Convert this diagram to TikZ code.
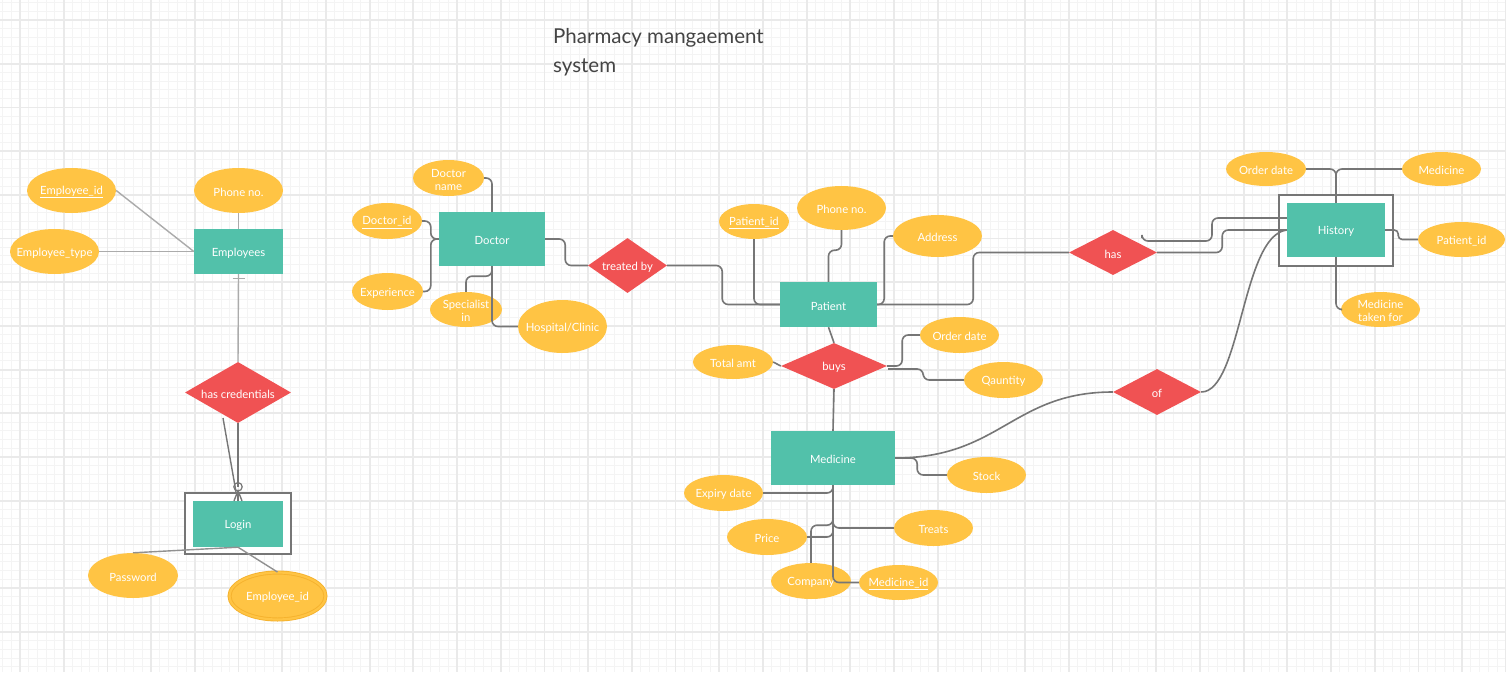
\documentclass[tikz,border=0pt]{standalone}
\usepackage{fontspec}
\setmainfont{Lato}
\usetikzlibrary{shapes.geometric,calc}
\definecolor{tealc}{HTML}{52C1AA}
\definecolor{orngc}{HTML}{FFC444}
\definecolor{orngdk}{HTML}{F5B22E}
\definecolor{redc}{HTML}{F05253}
\definecolor{connc}{HTML}{767676}
\definecolor{lconnc}{HTML}{ABABAB}
\definecolor{gridmaj}{HTML}{EAEAEA}
\definecolor{gridmin}{HTML}{F4F4F4}
\definecolor{titlec}{HTML}{444444}
\tikzset{
  ent/.style={rectangle, fill=tealc, draw=none, inner sep=0},
  attr/.style={ellipse, fill=orngc, draw=none, inner sep=0},
  rel/.style={diamond, fill=redc, draw=none, inner sep=0},
  lbl/.style={text=white, font=\fontsize{11.3}{13}\selectfont, align=center, inner sep=0, yshift=-1.5},
  conn/.style={draw=connc, line width=1.6, rounded corners=6},
  lconn/.style={draw=lconnc, line width=1.4},
  outerbox/.style={draw=connc, line width=1.5, fill=white, inner sep=0},
}
\begin{document}
\begin{tikzpicture}[x=1pt,y=-1pt]
\useasboundingbox (0,0) rectangle (1506,672);
\fill[white] (0,0) rectangle (1506,672);
% grid
\foreach \i in {0,...,173} {
  \pgfmathsetmacro{\g}{2.52+8.74*\i}
  \draw[gridmin, line width=1] (\g,0) -- (\g,672);
}
\foreach \i in {0,...,77} {
  \pgfmathsetmacro{\g}{2.52+8.74*\i}
  \draw[gridmin, line width=1] (0,\g) -- (1506,\g);
}
\foreach \i in {0,...,34} {
  \pgfmathsetmacro{\g}{20+43.7*\i}
  \draw[gridmaj, line width=1.8] (\g,0) -- (\g,672);
}
\foreach \i in {0,...,15} {
  \pgfmathsetmacro{\g}{20+43.7*\i}
  \draw[gridmaj, line width=1.8] (0,\g) -- (1506,\g);
}

% title
\node[anchor=north west, align=left, inner sep=0, font=\fontsize{20.5}{29}\selectfont, text=titlec] (title) at (553,28) {Pharmacy mangaement\\system};

% ---------- Employees / Login ----------
\node[ent, minimum width=89, minimum height=45, label={[lbl]center:Employees}] (emp) at (238.5,251.5) {};
\node[attr, minimum width=89, minimum height=45, label={[lbl]center:\underline{Employee\_id}}] (empid) at (71.5,190.5) {};
\node[attr, minimum width=89, minimum height=45, label={[lbl]center:Phone no.}] (empph) at (238.5,190.5) {};
\node[attr, minimum width=89, minimum height=45, label={[lbl]center:Employee\_type}] (emptype) at (54.5,251.5) {};
\node[rel, minimum width=106, minimum height=61, label={[lbl]center:has credentials}] (hascred) at (238,392.5) {};
\node[outerbox, minimum width=106, minimum height=61] (loginbox) at (238,523.5) {};
\node[ent, minimum width=90, minimum height=46, label={[lbl]center:Login}] (login) at (238,524) {};
\node[attr, minimum width=90, minimum height=45, label={[lbl]center:Password}] (password) at (133,575.5) {};
\node[attr, minimum width=96, minimum height=47, draw=orngdk, double=orngc, double distance=2.2, line width=0.9, label={[lbl]center:Employee\_id}] (empid2) at (277.5,596) {};

\draw[lconn] (empid.east) -- (emp.west);
\draw[lconn] (emptype.east) -- (emp.west);
\draw[lconn] (empph.south) -- (emp.north);
\draw[lconn] (emp.south) -- (hascred.north);
\draw[lconn] ($(emp.south)+(-6,4)$) -- ($(emp.south)+(6,4)$);
\draw[connc, line width=1.4] (hascred.south) -- ($(login.north)+(0,-14)$);
\draw[connc, line width=1.2] ($(login.north)+(0,-14)$) circle (4.2);
\draw[connc, line width=1.4] ($(login.north)+(0,-10)$) -- (login.north);
\draw[connc, line width=1.4] ($(login.north)+(-4,0)$) -- ($(login.north)+(0,-10)$) -- ($(login.north)+(4,0)$);
\coordinate (hcx) at (223,418);
\draw[connc, line width=1.4] (hcx) -- ($(login.north)+(-2,-9)$);
\draw[lconn, draw=connc!80] (login.south) -- (password.north);
\draw[lconn, draw=connc!80] (login.south) -- (empid2.north);

% ---------- Doctor ----------
\node[ent, minimum width=106, minimum height=54, label={[lbl]center:Doctor}] (doc) at (492,239) {};
\node[attr, minimum width=71, minimum height=36, label={[lbl]center:{Doctor\\name}}] (docname) at (448.5,178) {};
\node[attr, minimum width=70, minimum height=36, label={[lbl]center:\underline{Doctor\_id}}] (docid) at (387,221) {};
\node[attr, minimum width=71, minimum height=37, label={[lbl]center:Experience}] (exper) at (387.5,291.5) {};
\node[attr, minimum width=72, minimum height=35, label={[lbl]center:{Specialist\\in}}] (spec) at (466,309.5) {};
\node[attr, minimum width=89, minimum height=53, label={[lbl]center:Hospital/Clinic}] (hosp) at (562.5,326.5) {};
\node[rel, minimum width=79, minimum height=55, label={[lbl]center:treated by}] (treated) at (627.5,265.5) {};

\draw[conn] (docname.east) -| (doc.north);
\draw[conn] (docid.east) -| ($(doc.west)+(-8,0)$) -- (doc.west);
\draw[conn] (exper.east) -| ($(doc.west)+(-8,0)$) -- (doc.west);
\draw[conn] (doc.south) -- ++(0,10) -| (spec.north);
\draw[conn] (doc.south) |- (hosp.west);
\draw[conn] (doc.east) -- ++(20,0) |- (treated.west);

% ---------- Patient ----------
\node[ent, minimum width=97, minimum height=45, label={[lbl]center:Patient}] (pat) at (828.5,304.5) {};
\node[attr, minimum width=70, minimum height=35, label={[lbl]center:\underline{Patient\_id}}] (patid) at (754,221.5) {};
\node[attr, minimum width=89, minimum height=44, label={[lbl]center:Phone no.}] (patph) at (841.5,208) {};
\node[attr, minimum width=89, minimum height=42, label={[lbl]center:Address}] (addr) at (937.5,236) {};
\node[rel, minimum width=88, minimum height=45, label={[lbl]center:has}] (has) at (1113,252.5) {};

\draw[conn] (treated.east) -- ++(55,0) |- (pat.west);
\draw[conn] (patid.south) |- (pat.west);
\draw[conn] (patph.south) -- ++(0,20) -| (pat.north);
\draw[conn] (pat.east) -- ++(7,0) |- (addr.west);
\draw[conn] (pat.east) -- ++(96,0) |- (has.west);

% ---------- History ----------
\node[outerbox, minimum width=114, minimum height=71] (histbox) at (1336,230.5) {};
\node[ent, minimum width=98, minimum height=54, label={[lbl]center:History}] (hist) at (1336,230) {};
\node[attr, minimum width=80, minimum height=34, label={[lbl]center:Order date}] (hod) at (1266,169) {};
\node[attr, minimum width=79, minimum height=34, label={[lbl]center:Medicine}] (hmed) at (1441.5,169) {};
\node[attr, minimum width=87, minimum height=35, label={[lbl]center:Patient\_id}] (hpid) at (1461.5,239.5) {};
\node[attr, minimum width=79, minimum height=35, label={[lbl]center:{Medicine\\taken for}}] (hmtf) at (1380.5,309.5) {};

\draw[conn] (has.east) -- ++(65,0) |- (hist.west);
\coordinate (hb) at (1142,241);
\draw[conn] ($(hb)+(0,-3)$) -- (hb) -- ++(70,0) |- ($(hist.west)+(0,-12)$);
\draw[conn] (hod.east) -| (hist.north);
\draw[conn] (hmed.west) -| (hist.north);
\draw[conn, rounded corners=4] (hist.east) -- ++(13,0) |- (hpid.west);
\draw[conn] (hist.south) |- (hmtf.west);

% ---------- buys ----------
\node[rel, minimum width=106, minimum height=46, label={[lbl]center:buys}] (buys) at (834,366) {};
\node[attr, minimum width=80, minimum height=34, label={[lbl]center:Total amt}] (totamt) at (733,362) {};
\node[attr, minimum width=79, minimum height=36, label={[lbl]center:Order date}] (bod) at (959.5,335) {};
\node[attr, minimum width=79, minimum height=36, label={[lbl]center:Qauntity}] (qty) at (1003.5,380) {};

\draw[conn] (pat.south) -- (buys.north);
\draw[conn] (totamt.east) -- (buys.west);
\draw[conn] (buys.east) -- ++(15,0) |- (bod.west);
\draw[conn] ($(buys.east)+(1,3)$) -- ++(35,0) |- (qty.west);

% ---------- Medicine ----------
\node[ent, minimum width=124, minimum height=54, label={[lbl]center:Medicine}] (med) at (833,458) {};
\node[attr, minimum width=79, minimum height=36, label={[lbl]center:Stock}] (stock) at (986.5,475) {};
\node[attr, minimum width=79, minimum height=36, label={[lbl]center:Expiry date}] (expiry) at (723.5,493) {};
\node[attr, minimum width=79, minimum height=36, label={[lbl]center:Treats}] (treats) at (933.5,528) {};
\node[attr, minimum width=80, minimum height=36, label={[lbl]center:Price}] (price) at (767,537) {};
\node[attr, minimum width=80, minimum height=36, label={[lbl]center:Company}] (company) at (811,581) {};
\node[attr, minimum width=79, minimum height=35, label={[lbl]center:\underline{Medicine\_id}}] (medid) at (898.5,582.5) {};
\node[rel, minimum width=88, minimum height=46, label={[lbl]center:of}] (of) at (1157,392) {};

\draw[conn] (buys.south) -- (med.north);
\draw[conn] (med.east) -- ++(22,0) |- (stock.west);
\draw[conn] (expiry.east) -| (med.south);
\draw[conn] (med.south) |- (treats.west);
\draw[conn] (price.east) -| (med.south);
\draw[conn] (company.north) |- ($(med.south)+(0,40)$) -- (med.south);
\draw[conn] (med.south) |- (medid.west);
\draw[conn] (med.east) .. controls +(105,0) and +(-100,0) .. (of.west);
\draw[conn] (of.east) .. controls +(40,0) and +(-45,5) .. (hist.west);
\end{tikzpicture}
\end{document}
